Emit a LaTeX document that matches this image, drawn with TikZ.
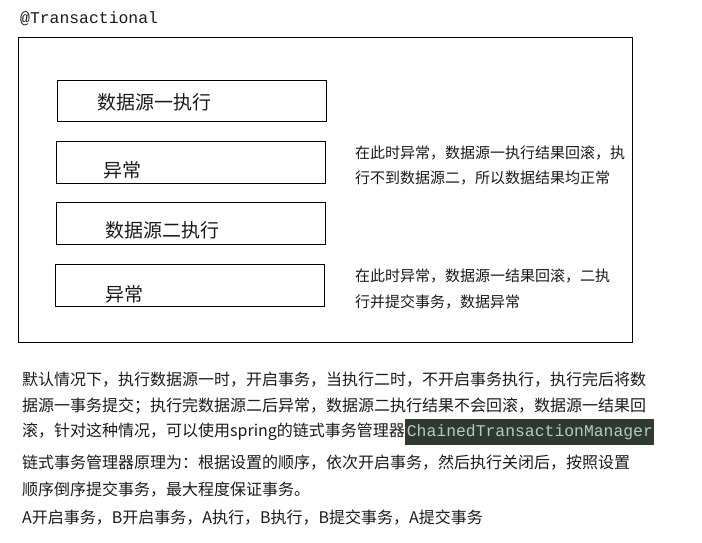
\documentclass[tikz,border=0pt]{standalone}
\usepackage{fontspec}
\setmainfont{Noto Sans CJK SC}
\newfontfamily\codefont{Liberation Mono}
\definecolor{hlbg}{HTML}{2E3A30}
\definecolor{hltext}{HTML}{B9C6C9}
\definecolor{ink}{HTML}{1A1A1A}
\begin{document}
\begin{tikzpicture}[x=1pt,y=-1pt,
  box/.style={draw=black,line width=1pt},
  boxtext/.style={anchor=west,inner sep=0pt,font=\fontsize{19}{19}\selectfont,text=ink},
  note/.style={anchor=west,inner sep=0pt,font=\fontsize{15}{15}\selectfont,text=ink},
  para/.style={anchor=west,inner sep=0pt,font=\fontsize{16}{16}\selectfont,text=ink},
  code/.style={anchor=west,inner sep=0pt,font=\codefont\fontsize{16.4}{16.4}\selectfont}]
\useasboundingbox (0,0) rectangle (702,542);
\node[code,text=ink] (title) at (20,19) {@Transactional};
\draw[box] (18,37.5) rectangle (632.5,342);
\draw[box] (57,80) rectangle (326,121);
\draw[box] (56,141) rectangle (325,183);
\draw[box] (56,202) rectangle (325,244);
\draw[box] (55,264) rectangle (324,306);
\node[boxtext] (t1) at (97,102) {数据源一执行};
\node[boxtext] (t2) at (103,170) {异常};
\node[boxtext] (t3) at (105,230) {数据源二执行};
\node[boxtext] (t4) at (105,294) {异常};
\node[note] (n1a) at (355,153) {在此时异常，数据源一执行结果回滚，执};
\node[note] (n1b) at (355,178) {行不到数据源二，所以数据结果均正常};
\node[note] (n2a) at (355,276) {在此时异常，数据源一结果回滚，二执};
\node[note] (n2b) at (355,302) {行并提交事务，数据异常};
\node[para] (p1) at (22,380) {默认情况下，执行数据源一时，开启事务，当执行二时，不开启事务执行，执行完后将数};
\node[para] (p2) at (22,406) {据源一事务提交；执行完数据源二后异常，数据源二执行结果不会回滚，数据源一结果回};
\node[para] (p3) at (22,432) {滚，针对这种情况，可以使用spring的链式事务管理器};
\node[code,fill=hlbg,text=hltext,minimum height=26pt,inner xsep=1.5pt,anchor=west] (hl) at (p3.east) {ChainedTransactionManager};
\node[para] (p4) at (22,463) {链式事务管理器原理为：根据设置的顺序，依次开启事务，然后执行关闭后，按照设置};
\node[para] (p5) at (22,490) {顺序倒序提交事务，最大程度保证事务。};
\node[para] (p6) at (22,518) {A开启事务，B开启事务，A执行，B执行，B提交事务，A提交事务};
\end{tikzpicture}
\end{document}
